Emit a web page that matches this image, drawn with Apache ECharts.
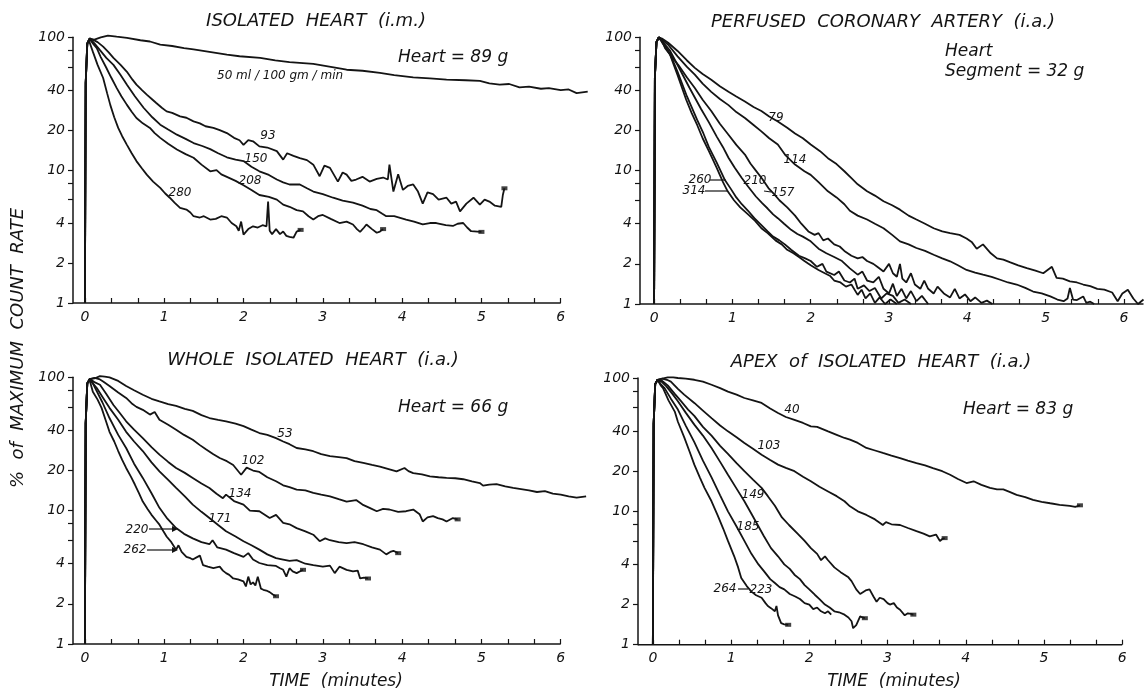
<!DOCTYPE html>
<html>
<head>
<meta charset="utf-8">
<script src="https://cdn.jsdelivr.net/npm/echarts@6/dist/echarts.min.js"></script>
<style>
  html, body { margin: 0; padding: 0; background: #fff; }
  #chart { width: 1147px; height: 694px; }
</style>
</head>
<body>
<div id="chart"></div>
<script>
// Washout curves: [time in minutes, % of maximum count rate]

// ISOLATED HEART (i.m.)
const im50 = [[0,1],[0.01,45],[0.03,90],[0.06,97],[0.12,96],[0.2,100],[0.29,103],[0.4,101],[0.53,99],[0.7,95],[0.82,93],[0.95,88],[1.1,86],[1.25,83],[1.37,81],[1.55,78],[1.79,74],[1.95,72],[2.21,70],[2.4,67],[2.58,65],[2.75,64],[2.88,63],[3.1,60],[3.3,57],[3.5,56],[3.72,54],[3.9,52],[4.14,50],[4.35,49],[4.56,48],[4.8,47.5],[4.98,47],[5.1,45],[5.23,44],[5.35,44.5],[5.48,42],[5.6,42.5],[5.75,41],[5.85,41.5],[6.0,40],[6.1,40.5],[6.2,38],[6.34,39]];
const im93 = [[0,1],[0.01,45],[0.03,90],[0.06,98],[0.1,96],[0.16,92],[0.23,85],[0.3,77],[0.36,70],[0.45,62],[0.53,55],[0.6,48],[0.65,44],[0.72,40],[0.78,37],[0.85,34],[0.9,32],[0.97,29.5],[1.03,27.7],[1.1,27],[1.2,25.4],[1.28,24.8],[1.37,23.3],[1.45,22.5],[1.52,21.4],[1.62,20.8],[1.7,20],[1.79,19],[1.88,17.5],[1.95,16.8],[2.0,15.5],[2.06,16.8],[2.12,16.5],[2.2,15.1],[2.3,14.8],[2.42,13.9],[2.5,12.0],[2.55,13.4],[2.63,12.8],[2.71,12.3],[2.8,11.9],[2.88,11.0],[2.96,9.0],[3.02,10.8],[3.09,10.4],[3.19,8.2],[3.25,9.6],[3.3,9.25],[3.36,8.3],[3.42,8.5],[3.5,8.9],[3.59,8.2],[3.68,8.6],[3.76,8.8],[3.82,8.5],[3.84,11.0],[3.89,6.9],[3.95,9.3],[4.01,7.1],[4.07,7.6],[4.14,7.8],[4.2,6.9],[4.26,5.6],[4.32,6.8],[4.39,6.6],[4.46,6.0],[4.56,6.2],[4.62,5.6],[4.68,5.8],[4.73,4.9],[4.81,5.6],[4.9,6.2],[4.98,5.5],[5.04,6.0],[5.1,5.8],[5.17,5.4],[5.25,5.3],[5.27,6.5],[5.29,7.3]];
const im150 = [[0,1],[0.01,45],[0.03,90],[0.06,98],[0.12,90],[0.19,80],[0.27,70],[0.36,62],[0.45,52],[0.53,44],[0.63,36],[0.74,29.5],[0.85,25],[0.95,22],[1.05,20.2],[1.16,18.5],[1.27,17.2],[1.37,16],[1.48,15.2],[1.58,14.4],[1.68,13.4],[1.79,12.5],[1.9,12.0],[2.0,11.7],[2.1,10.6],[2.2,9.8],[2.32,9.2],[2.42,8.5],[2.5,8.1],[2.58,7.8],[2.71,7.8],[2.8,7.3],[2.88,6.9],[3.0,6.6],[3.13,6.2],[3.25,5.9],[3.38,5.7],[3.5,5.4],[3.6,5.1],[3.68,5.0],[3.75,4.7],[3.8,4.5],[3.9,4.5],[4.05,4.25],[4.15,4.1],[4.26,3.9],[4.35,4.0],[4.43,4.0],[4.55,3.85],[4.64,3.8],[4.7,3.95],[4.77,4.0],[4.82,3.7],[4.87,3.47],[4.95,3.45],[5.0,3.43]];
const im208 = [[0,1],[0.01,45],[0.03,90],[0.06,97],[0.1,90],[0.15,83],[0.2,71],[0.27,59],[0.33,50],[0.4,41.6],[0.46,36],[0.53,31],[0.59,27.5],[0.65,24.7],[0.73,22.5],[0.82,20.8],[0.88,19],[0.95,17.5],[1.05,15.8],[1.16,14.3],[1.27,13.2],[1.37,12.4],[1.47,11.0],[1.58,9.8],[1.66,10.0],[1.72,9.3],[1.79,8.9],[1.9,8.3],[2.0,7.7],[2.1,7.1],[2.2,6.5],[2.32,6.3],[2.42,6.0],[2.5,5.5],[2.58,5.3],[2.67,5.0],[2.75,4.9],[2.82,4.5],[2.88,4.25],[2.94,4.5],[3.0,4.6],[3.1,4.3],[3.21,4.0],[3.3,4.1],[3.38,3.9],[3.43,3.6],[3.47,3.43],[3.52,3.7],[3.55,3.9],[3.62,3.6],[3.68,3.38],[3.72,3.45],[3.76,3.6]];
const im280 = [[0,1],[0.01,45],[0.03,88],[0.05,95],[0.1,78],[0.16,62],[0.23,49.4],[0.28,38],[0.32,31],[0.37,25],[0.42,20.8],[0.47,18],[0.53,15.5],[0.59,13.4],[0.65,11.7],[0.72,10.3],[0.78,9.25],[0.86,8.2],[0.95,7.35],[1.01,6.7],[1.07,6.2],[1.13,5.7],[1.2,5.2],[1.28,5.05],[1.33,4.8],[1.37,4.5],[1.45,4.4],[1.5,4.5],[1.58,4.25],[1.65,4.3],[1.72,4.5],[1.79,4.4],[1.85,4.0],[1.91,3.78],[1.94,3.5],[1.97,4.1],[2.0,3.27],[2.06,3.6],[2.12,3.78],[2.18,3.7],[2.24,3.85],[2.29,3.78],[2.31,5.8],[2.33,3.5],[2.36,3.3],[2.41,3.6],[2.46,3.3],[2.5,3.45],[2.54,3.2],[2.58,3.15],[2.63,3.1],[2.67,3.45],[2.72,3.55]];

// PERFUSED CORONARY ARTERY (i.a.)
const pc79 = [[0,1],[0.01,50],[0.03,92],[0.06,100],[0.1,98],[0.18,91],[0.3,79],[0.42,67],[0.52,59],[0.62,53],[0.73,48],[0.84,43],[0.95,39],[1.05,36],[1.16,33],[1.27,30],[1.37,28],[1.47,25.5],[1.58,23.4],[1.7,21],[1.8,19],[1.9,17.5],[2.0,15.7],[2.12,14],[2.22,12.4],[2.33,11.2],[2.43,9.9],[2.52,8.8],[2.6,7.9],[2.72,7.0],[2.82,6.5],[2.93,5.9],[3.04,5.5],[3.14,5.1],[3.25,4.6],[3.35,4.3],[3.46,4.0],[3.57,3.7],[3.68,3.5],[3.78,3.4],[3.9,3.3],[3.99,3.1],[4.06,2.9],[4.12,2.6],[4.2,2.8],[4.3,2.4],[4.38,2.2],[4.46,2.15],[4.55,2.05],[4.65,1.95],[4.76,1.86],[4.87,1.78],[4.97,1.7],[5.08,1.9],[5.14,1.57],[5.22,1.55],[5.31,1.48],[5.4,1.45],[5.48,1.4],[5.57,1.36],[5.66,1.3],[5.75,1.28],[5.85,1.22],[5.92,1.05],[5.98,1.2],[6.05,1.28],[6.12,1.1],[6.18,1.0],[6.25,1.08]];
const pc114 = [[0,1],[0.01,50],[0.03,92],[0.06,100],[0.1,96],[0.18,88],[0.3,72],[0.42,60],[0.52,52.5],[0.62,45],[0.73,39],[0.84,34.5],[0.95,31],[1.05,27.5],[1.16,24.8],[1.27,22],[1.37,19.7],[1.47,17.5],[1.58,15.7],[1.68,13],[1.8,11.1],[1.92,9.9],[2.0,9.3],[2.1,8.2],[2.22,7.0],[2.33,6.3],[2.43,5.6],[2.5,5.0],[2.6,4.6],[2.72,4.3],[2.82,4.0],[2.93,3.7],[3.04,3.3],[3.14,2.95],[3.25,2.8],[3.35,2.63],[3.46,2.5],[3.57,2.34],[3.68,2.2],[3.78,2.09],[3.88,1.95],[3.99,1.8],[4.1,1.72],[4.2,1.66],[4.31,1.6],[4.42,1.52],[4.52,1.45],[4.63,1.4],[4.74,1.32],[4.84,1.24],[4.95,1.2],[5.06,1.14],[5.15,1.08],[5.23,1.05],[5.28,1.1],[5.31,1.32],[5.35,1.08],[5.4,1.07],[5.48,1.14],[5.52,1.02],[5.57,1.04],[5.62,1.0]];
const pc157 = [[0,1],[0.01,50],[0.03,92],[0.06,100],[0.1,95],[0.14,83],[0.22,72],[0.31,62],[0.42,50],[0.52,41.7],[0.62,34],[0.73,28],[0.84,22.5],[0.95,18.6],[1.05,15.6],[1.16,13.2],[1.23,11.3],[1.3,10],[1.38,8.7],[1.46,7.4],[1.53,6.7],[1.6,6.0],[1.7,5.3],[1.8,4.6],[1.88,4.0],[1.97,3.5],[2.05,3.3],[2.1,3.4],[2.16,3.0],[2.22,3.1],[2.3,2.8],[2.37,2.7],[2.43,2.5],[2.52,2.3],[2.6,2.2],[2.66,2.25],[2.72,2.1],[2.8,2.0],[2.85,1.9],[2.93,1.75],[3.0,2.0],[3.05,1.7],[3.1,1.6],[3.14,2.0],[3.17,1.55],[3.22,1.45],[3.28,1.7],[3.33,1.4],[3.4,1.3],[3.45,1.5],[3.5,1.3],[3.57,1.2],[3.62,1.35],[3.7,1.2],[3.78,1.12],[3.84,1.3],[3.9,1.1],[3.97,1.18],[4.04,1.05],[4.1,1.12],[4.18,1.02],[4.25,1.06],[4.32,1.0]];
const pc210 = [[0,1],[0.01,50],[0.03,92],[0.06,100],[0.1,94],[0.2,80],[0.3,62],[0.45,42],[0.6,29],[0.7,23],[0.8,18],[0.88,15],[0.95,12.5],[1.03,10.5],[1.12,8.8],[1.2,7.6],[1.3,6.4],[1.38,5.7],[1.45,5.2],[1.52,4.7],[1.58,4.4],[1.66,4.0],[1.75,3.6],[1.83,3.35],[1.9,3.2],[2.0,2.95],[2.1,2.6],[2.2,2.4],[2.3,2.25],[2.4,2.1],[2.5,1.85],[2.6,1.66],[2.66,1.75],[2.72,1.5],[2.8,1.45],[2.87,1.6],[2.93,1.3],[3.0,1.2],[3.05,1.42],[3.1,1.15],[3.16,1.3],[3.22,1.1],[3.28,1.25],[3.35,1.05],[3.42,1.15],[3.5,1.0]];
const pc260 = [[0,1],[0.01,50],[0.03,92],[0.06,100],[0.1,93],[0.2,76],[0.3,55],[0.42,36],[0.55,24],[0.63,19],[0.7,15],[0.8,11.5],[0.9,8.6],[0.98,7.3],[1.05,6.3],[1.12,5.6],[1.2,5.0],[1.28,4.4],[1.37,3.9],[1.45,3.5],[1.52,3.2],[1.6,3.0],[1.67,2.8],[1.75,2.55],[1.85,2.3],[1.93,2.2],[2.0,2.1],[2.08,1.9],[2.15,2.0],[2.2,1.75],[2.3,1.65],[2.36,1.75],[2.43,1.5],[2.5,1.45],[2.56,1.55],[2.6,1.3],[2.68,1.38],[2.75,1.25],[2.82,1.32],[2.9,1.1],[2.97,1.2],[3.05,1.15],[3.12,1.02],[3.2,1.08],[3.28,1.0]];
const pc314 = [[0,1],[0.01,50],[0.03,92],[0.06,100],[0.1,92],[0.2,75],[0.3,52],[0.41,34],[0.48,27],[0.55,22],[0.62,17.5],[0.7,14],[0.8,10.5],[0.88,8.2],[0.94,7.0],[1.02,6.0],[1.1,5.3],[1.2,4.7],[1.29,4.2],[1.37,3.7],[1.45,3.4],[1.55,3.0],[1.63,2.8],[1.7,2.55],[1.78,2.4],[1.85,2.25],[1.92,2.1],[2.0,1.95],[2.1,1.8],[2.18,1.7],[2.25,1.62],[2.3,1.5],[2.38,1.45],[2.45,1.35],[2.52,1.4],[2.6,1.17],[2.65,1.28],[2.7,1.1],[2.76,1.2],[2.82,1.02],[2.88,1.12],[2.95,1.0],[3.02,1.08],[3.1,1.0]];

// WHOLE ISOLATED HEART (i.a.)
const wh53 = [[0,1],[0.01,45],[0.03,90],[0.06,97],[0.12,98],[0.19,102],[0.25,101],[0.31,100],[0.42,94],[0.52,86],[0.62,80],[0.73,74],[0.84,69],[0.94,66],[1.05,63],[1.15,61],[1.26,58],[1.36,56],[1.47,52],[1.57,49.5],[1.68,48],[1.78,46.8],[1.9,45],[2.0,43],[2.1,40.5],[2.2,38.2],[2.3,37],[2.41,35],[2.5,33],[2.58,31.5],[2.67,29.5],[2.78,28.8],[2.88,27.9],[2.98,26.5],[3.09,25.6],[3.2,25.2],[3.3,24.8],[3.4,23.5],[3.51,22.8],[3.62,22],[3.72,21.4],[3.83,20.5],[3.93,19.7],[4.03,20.9],[4.08,19.8],[4.14,19.1],[4.25,18.7],[4.35,18.1],[4.46,17.8],[4.56,17.6],[4.67,17.5],[4.77,17.2],[4.88,16.6],[4.98,16.1],[5.02,15.4],[5.1,15.7],[5.19,15.8],[5.3,15.2],[5.4,14.8],[5.5,14.5],[5.6,14.2],[5.7,13.8],[5.8,14.0],[5.9,13.4],[6.0,13.2],[6.1,12.8],[6.2,12.5],[6.32,12.8]];
const wh102 = [[0,1],[0.01,45],[0.03,90],[0.06,97],[0.12,99],[0.18,97],[0.23,93],[0.31,86],[0.42,77],[0.52,70],[0.6,63],[0.65,60],[0.73,57],[0.82,52.5],[0.88,55],[0.94,48],[1.05,44],[1.15,40.5],[1.25,37],[1.36,34],[1.45,31],[1.53,28.7],[1.62,26.5],[1.7,24.8],[1.79,23.5],[1.87,22],[1.97,18.6],[2.04,21],[2.12,20],[2.2,19.5],[2.3,17.8],[2.41,16.6],[2.5,15.5],[2.58,15],[2.67,14.4],[2.78,14.2],[2.88,13.6],[2.98,13.2],[3.09,12.8],[3.2,12.2],[3.3,11.7],[3.42,12.0],[3.5,11.1],[3.59,10.5],[3.68,9.9],[3.76,10.3],[3.84,10.2],[3.95,9.8],[4.05,9.9],[4.14,10.2],[4.22,9.4],[4.26,8.3],[4.32,8.9],[4.39,9.1],[4.45,8.8],[4.51,8.6],[4.56,8.3],[4.64,8.8],[4.7,8.6]];
const wh134 = [[0,1],[0.01,45],[0.03,90],[0.06,97],[0.12,92],[0.19,88],[0.27,75],[0.36,62],[0.44,54],[0.52,46.8],[0.62,40.5],[0.73,35],[0.84,30],[0.94,26.3],[1.05,23.2],[1.15,20.9],[1.26,19.2],[1.36,17.6],[1.47,16],[1.57,14.8],[1.66,13.4],[1.74,12.4],[1.78,13.2],[1.88,11.8],[2.0,11.1],[2.08,10.0],[2.2,9.9],[2.33,8.8],[2.41,9.3],[2.5,8.1],[2.58,7.9],[2.67,7.4],[2.78,7.0],[2.88,6.6],[2.96,5.9],[3.03,6.2],[3.09,6.0],[3.2,5.8],[3.3,5.7],[3.4,5.8],[3.51,5.6],[3.62,5.3],[3.72,5.1],[3.8,4.7],[3.85,4.9],[3.89,5.0],[3.95,4.8]];
const wh171 = [[0,1],[0.01,45],[0.03,90],[0.06,97],[0.1,90],[0.15,83],[0.23,70],[0.31,59],[0.42,48],[0.52,39],[0.62,33],[0.73,28],[0.84,23],[0.94,19.7],[1.05,17],[1.15,14.8],[1.26,12.8],[1.36,11.1],[1.47,9.8],[1.57,8.8],[1.68,7.8],[1.78,7.0],[1.9,6.4],[2.0,5.9],[2.1,5.5],[2.2,5.1],[2.3,4.7],[2.41,4.4],[2.5,4.3],[2.58,4.2],[2.67,4.25],[2.78,4.0],[2.88,3.9],[3.0,3.8],[3.09,3.87],[3.15,3.4],[3.21,3.8],[3.3,3.6],[3.38,3.5],[3.44,3.55],[3.47,3.1],[3.52,3.15],[3.57,3.1]];
const wh220 = [[0,1],[0.01,45],[0.03,90],[0.06,97],[0.1,90],[0.13,83],[0.22,65],[0.31,49.5],[0.42,37],[0.52,29.5],[0.62,22.5],[0.73,17.6],[0.84,13.5],[0.94,10.5],[1.04,8.7],[1.15,7.4],[1.25,6.7],[1.36,6.2],[1.47,5.8],[1.57,5.6],[1.61,6.0],[1.67,5.3],[1.78,5.1],[1.88,4.8],[2.0,4.5],[2.06,4.8],[2.12,4.3],[2.2,4.05],[2.3,3.9],[2.41,3.85],[2.46,3.7],[2.5,3.6],[2.54,3.2],[2.58,3.7],[2.62,3.5],[2.67,3.4],[2.75,3.6]];
const wh262 = [[0,1],[0.01,45],[0.03,90],[0.06,95],[0.1,78],[0.16,68],[0.21,59],[0.26,48],[0.31,39],[0.37,33],[0.42,28],[0.47,24],[0.52,20.9],[0.58,18],[0.63,15.7],[0.68,13.6],[0.73,11.7],[0.79,10.3],[0.84,9.3],[0.9,8.4],[0.94,7.85],[0.99,7.0],[1.03,6.4],[1.09,5.8],[1.15,5.1],[1.18,5.5],[1.22,4.9],[1.28,4.5],[1.33,4.4],[1.36,4.3],[1.42,4.5],[1.45,4.6],[1.49,3.9],[1.55,3.8],[1.62,3.7],[1.7,3.8],[1.74,3.55],[1.78,3.4],[1.82,3.3],[1.87,3.1],[1.93,3.05],[2.0,2.95],[2.03,2.7],[2.06,3.2],[2.09,2.8],[2.12,2.9],[2.15,2.75],[2.18,3.2],[2.22,2.6],[2.25,2.55],[2.3,2.5],[2.33,2.45],[2.37,2.35],[2.41,2.28]];

// APEX of ISOLATED HEART (i.a.)
const ap40 = [[0,1],[0.01,45],[0.03,90],[0.06,97],[0.12,99],[0.19,101],[0.26,101],[0.32,100],[0.42,99],[0.53,97],[0.64,94],[0.75,89],[0.86,84],[0.96,79],[1.07,75],[1.17,70.8],[1.28,68],[1.39,65],[1.5,59],[1.6,54.6],[1.7,51],[1.81,48.5],[1.92,46],[2.02,43.4],[2.1,43],[2.24,39.8],[2.35,37.5],[2.45,35.5],[2.52,34.5],[2.62,32.6],[2.73,29.9],[2.84,28.6],[2.94,27.4],[3.05,26.2],[3.16,25.1],[3.26,24],[3.37,23],[3.48,22.1],[3.58,21.1],[3.7,20],[3.8,18.8],[3.9,17.5],[4.01,16.3],[4.1,16.8],[4.2,15.8],[4.31,15],[4.4,14.6],[4.48,14.6],[4.56,14.0],[4.65,13.3],[4.76,12.8],[4.86,12.2],[4.97,11.8],[5.08,11.5],[5.2,11.2],[5.33,11.0],[5.4,10.8],[5.46,11.1]];
const ap103 = [[0,1],[0.01,45],[0.03,90],[0.06,97],[0.12,99],[0.18,97],[0.23,94],[0.32,83],[0.4,75],[0.53,65],[0.64,57],[0.75,50],[0.86,44],[0.96,39.8],[1.07,36],[1.17,32.6],[1.28,29.5],[1.39,26.6],[1.5,24.3],[1.6,22.4],[1.7,21.2],[1.81,20],[1.92,18.2],[2.02,16.8],[2.13,15.3],[2.24,14.1],[2.35,13],[2.45,11.9],[2.52,10.9],[2.62,10],[2.73,9.4],[2.84,8.7],[2.94,7.9],[2.98,8.3],[3.05,8.0],[3.16,7.9],[3.26,7.5],[3.37,7.1],[3.46,6.8],[3.54,6.5],[3.62,6.7],[3.67,6.0],[3.7,6.2],[3.73,6.3]];
const ap149 = [[0,1],[0.01,45],[0.03,90],[0.06,97],[0.12,95],[0.19,88],[0.28,76],[0.36,67],[0.45,58],[0.53,52],[0.64,43],[0.75,37],[0.86,31],[0.96,27],[1.07,23],[1.17,20],[1.28,17.3],[1.39,15],[1.47,13],[1.56,11],[1.65,9],[1.74,7.9],[1.85,6.8],[1.94,6.0],[2.02,5.3],[2.1,4.8],[2.15,4.3],[2.2,4.6],[2.24,4.3],[2.32,3.8],[2.4,3.5],[2.45,3.35],[2.5,3.2],[2.54,3.0],[2.6,2.6],[2.65,2.4],[2.72,2.55],[2.77,2.6],[2.82,2.3],[2.86,2.1],[2.9,2.25],[2.95,2.2],[3.0,2.05],[3.03,2.0],[3.08,2.05],[3.12,1.9],[3.16,1.83],[3.22,1.66],[3.26,1.72],[3.3,1.7],[3.33,1.68]];
const ap185 = [[0,1],[0.01,45],[0.03,90],[0.06,97],[0.11,94],[0.17,87],[0.25,76],[0.32,67],[0.42,55],[0.53,44.7],[0.64,37],[0.75,29.9],[0.86,23.5],[0.96,18.8],[1.07,14.8],[1.17,11.9],[1.26,9.6],[1.34,7.9],[1.42,6.5],[1.51,5.3],[1.6,4.6],[1.68,4.0],[1.75,3.7],[1.81,3.35],[1.88,3.1],[1.94,2.8],[2.0,2.6],[2.07,2.37],[2.13,2.2],[2.2,2.0],[2.26,1.9],[2.32,1.78],[2.38,1.75],[2.45,1.68],[2.5,1.6],[2.54,1.5],[2.56,1.33],[2.6,1.4],[2.65,1.63],[2.68,1.6],[2.71,1.58]];
const ap223 = [[0,1],[0.01,45],[0.03,90],[0.06,97],[0.1,90],[0.15,84],[0.23,70],[0.32,58],[0.42,44],[0.53,33],[0.64,24],[0.75,18],[0.86,13.2],[0.96,10],[1.07,7.7],[1.17,6.0],[1.26,4.8],[1.35,4.0],[1.43,3.5],[1.5,3.1],[1.56,2.9],[1.62,2.7],[1.68,2.6],[1.75,2.4],[1.82,2.3],[1.88,2.2],[1.94,2.05],[2.0,2.0],[2.05,1.85],[2.1,1.9],[2.15,1.78],[2.2,1.72],[2.24,1.78],[2.28,1.68]];
const ap264 = [[0,1],[0.01,45],[0.03,90],[0.06,97],[0.1,88],[0.13,84],[0.2,68],[0.28,56],[0.32,47],[0.4,36],[0.47,28],[0.53,22.4],[0.6,18],[0.66,15],[0.75,11.9],[0.83,9.3],[0.9,7.4],[0.96,6.0],[1.04,4.6],[1.09,3.8],[1.13,3.16],[1.2,2.75],[1.26,2.5],[1.32,2.35],[1.39,2.25],[1.44,2.05],[1.47,1.95],[1.51,1.88],[1.56,1.78],[1.58,1.95],[1.6,1.66],[1.64,1.45],[1.68,1.42],[1.73,1.41]];

// Axis ticks and labels
const timeLabels = [0, 1, 2, 3, 4, 5, 6];
const timeTicks = [];
for (let k = 0; k <= 18; k++) timeTicks.push(k / 3);
const rateLabels = [1, 2, 4, 10, 20, 40, 100];
const rateTicks = [1, 2, 4, 6, 8, 10, 20, 40, 60, 80, 100];

// Panel frames (pixel layout), x ranges and the time where the drawn baseline stops
const panels = [
  { left: 73,  top: 37.3, width: 515.5, height: 265.7, xmin: -0.15, xmax: 6.35, axisEnd: 6,
    curves: [im50, im93, im150, im208, im280], ends: [im93, im150, im208, im280] },
  { left: 640, top: 37.3, width: 503.5, height: 266.7, xmin: -0.18, xmax: 6.25, axisEnd: 6.25,
    curves: [pc79, pc114, pc157, pc210, pc260, pc314], ends: [] },
  { left: 73,  top: 377.3, width: 515.5, height: 266.7, xmin: -0.15, xmax: 6.35, axisEnd: 6,
    curves: [wh53, wh102, wh134, wh171, wh220, wh262], ends: [wh102, wh134, wh171, wh220, wh262] },
  { left: 638, top: 378, width: 484.2, height: 266.7, xmin: -0.19, xmax: 6, axisEnd: 6,
    curves: [ap40, ap103, ap149, ap185, ap223, ap264], ends: [ap40, ap103, ap149, ap185, ap264] }
];

const FONT = "'DejaVu Sans', sans-serif";
const INK = '#141414';

const grids = [], xAxes = [], yAxes = [], series = [];
panels.forEach((p, i) => {
  grids.push({ left: p.left, top: p.top, width: p.width, height: p.height, outerBoundsMode: 'none' });
  xAxes.push({
    gridIndex: i, type: 'value', min: p.xmin, max: p.xmax,
    axisLine: { show: false, onZero: false },
    axisTick: { inside: true, length: 5, customValues: timeTicks, lineStyle: { color: INK, width: 1.2 } },
    axisLabel: { customValues: timeLabels, color: INK, fontSize: 14, fontStyle: 'italic', fontFamily: FONT, margin: 7 },
    splitLine: { show: false }
  });
  yAxes.push({
    gridIndex: i, type: 'log', logBase: 10, min: 1, max: 100,
    axisLine: { onZero: false, lineStyle: { color: INK, width: 1.5 } },
    axisTick: { inside: false, length: 5, customValues: rateTicks, lineStyle: { color: INK, width: 1.2 } },
    axisLabel: { customValues: rateLabels, color: INK, fontSize: 14, fontStyle: 'italic', fontFamily: FONT, margin: 8 },
    splitLine: { show: false }
  });
  p.curves.forEach(c => {
    series.push({
      type: 'line', xAxisIndex: i, yAxisIndex: i, data: c,
      showSymbol: false, symbol: 'none', clip: false, silent: true,
      lineStyle: { color: INK, width: 1.8 }
    });
  });
  if (p.ends.length) {
    series.push({
      type: 'scatter', xAxisIndex: i, yAxisIndex: i, silent: true,
      symbol: 'rect', symbolSize: [6, 4],
      itemStyle: { color: INK },
      data: p.ends.map(c => c[c.length - 1])
    });
  }
});

function txt(x, y, s, size, align) {
  return { type: 'text', x: x, y: y, silent: true,
    style: { text: s, fill: INK, font: 'italic ' + size + 'px ' + FONT,
             align: align || 'center', verticalAlign: 'middle' } };
}
function seg(x1, y1, x2, y2, w) {
  return { type: 'line', silent: true, shape: { x1: x1, y1: y1, x2: x2, y2: y2 },
           style: { stroke: INK, lineWidth: w || 1.2 } };
}
function head(x, y) {
  return { type: 'polygon', silent: true, shape: { points: [[x, y], [x - 6, y - 3], [x - 6, y + 3]] },
           style: { fill: INK } };
}

const graphics = [
  // panel titles
  txt(316, 21, 'ISOLATED  HEART  (i.m.)', 18),
  txt(883, 22, 'PERFUSED  CORONARY  ARTERY  (i.a.)', 18),
  txt(313, 360, 'WHOLE  ISOLATED  HEART  (i.a.)', 18),
  txt(881, 362, 'APEX  of  ISOLATED  HEART  (i.a.)', 18),
  // heart weights
  txt(398, 58, 'Heart = 89 g', 17, 'left'),
  txt(945, 52, 'Heart', 17, 'left'),
  txt(945, 72, 'Segment = 32 g', 17, 'left'),
  txt(398, 408, 'Heart = 66 g', 17, 'left'),
  txt(963, 410, 'Heart = 83 g', 17, 'left'),
  // flow labels, isolated heart (i.m.)
  txt(217, 76, '50 ml / 100 gm / min', 12, 'left'),
  txt(268, 136, '93', 12), txt(256, 159, '150', 12), txt(250, 181, '208', 12), txt(180, 193, '280', 12),
  // flow labels, perfused coronary artery
  txt(776, 118, '79', 12), txt(795, 160, '114', 12),
  txt(700, 180, '260', 12), txt(755, 181, '210', 12), txt(783, 193, '157', 12), txt(694, 191, '314', 12),
  seg(710, 180, 726, 180), seg(705, 191, 727, 191), seg(764, 191, 771, 192),
  // flow labels, whole isolated heart
  txt(285, 434, '53', 12), txt(253, 461, '102', 12), txt(240, 494, '134', 12), txt(220, 519, '171', 12),
  txt(137, 530, '220', 12), txt(135, 550, '262', 12),
  seg(149, 529, 172, 529), head(178, 529), seg(147, 550, 172, 550), head(178, 550),
  // flow labels, apex
  txt(792, 410, '40', 12), txt(769, 446, '103', 12), txt(753, 495, '149', 12), txt(748, 527, '185', 12),
  txt(725, 589, '264', 12), txt(761, 590, '223', 12), seg(738, 589, 748, 589),
  // shared axis titles
  txt(336, 682, 'TIME  (minutes)', 17),
  txt(894, 682, 'TIME  (minutes)', 17),
  Object.assign(txt(18, 348, '%  of  MAXIMUM  COUNT  RATE', 18), { rotation: Math.PI / 2 })
];

const chart = echarts.init(document.getElementById('chart'), null, { renderer: 'canvas' });
chart.setOption({
  backgroundColor: '#ffffff',
  animation: false,
  grid: grids,
  xAxis: xAxes,
  yAxis: yAxes,
  series: series,
  graphic: graphics
});

// time-axis baselines, stopping at each panel's last labelled minute
const baselines = panels.map((p, i) => {
  const a = chart.convertToPixel({ gridIndex: i }, [p.xmin, 1]);
  const b = chart.convertToPixel({ gridIndex: i }, [p.axisEnd, 1]);
  return seg(a[0], a[1], b[0], b[1], 1.5);
});
chart.setOption({ graphic: graphics.concat(baselines) });
</script>
</body>
</html>
